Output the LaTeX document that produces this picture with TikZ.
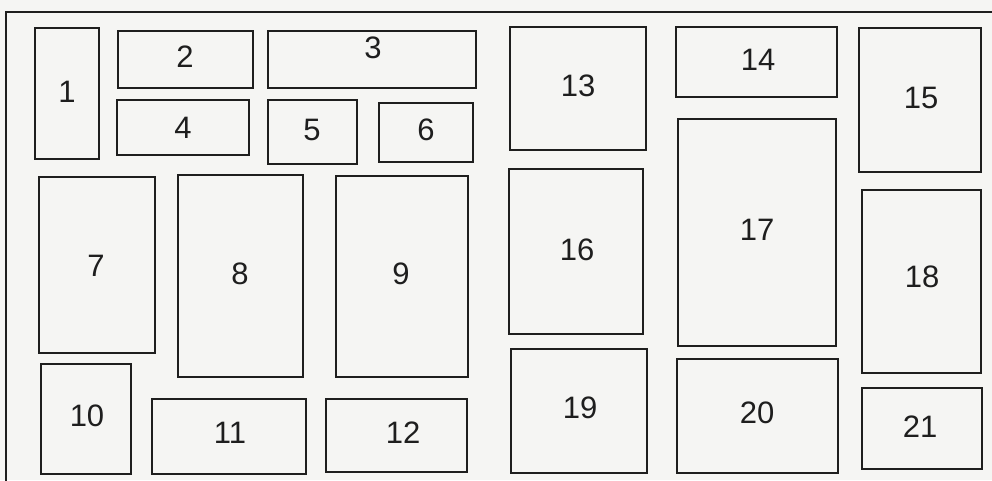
\documentclass[tikz,border=0pt]{standalone}
\usepackage{fontspec}
\setmainfont{Liberation Sans}
\usetikzlibrary{fit}
\definecolor{paper}{RGB}{245,245,243}
\definecolor{ink}{RGB}{30,30,30}
\tikzset{
  boxst/.style={draw=ink, line width=2.6pt, inner sep=0pt, fill=paper},
  lbl/.style={inner sep=0pt, text=ink, font=\fontsize{31}{31}\selectfont},
  frame/.style={draw=ink, line width=2.6pt}
}
\newcommand\bx[7]{%
  \node[boxst, fit={(#2,#3) (#4,#5)}] (b#1) {};
  \node[lbl] (l#1) at (#6,#7) {#1};}
\begin{document}
\begin{tikzpicture}[x=1pt,y=-1pt]
\fill[paper] (0,0) rectangle (992,480);
\useasboundingbox (0,0) rectangle (992,480);
\coordinate (fa) at (6,481);
\coordinate (fb) at (6,12);
\coordinate (fc) at (993,12);
\draw[frame] (fa) -- (fb) -- (fc);
\bx{1}{35}{28}{99}{159}{67}{92}
\bx{2}{118}{31}{253}{88}{185}{57}
\bx{3}{268}{31}{476}{88}{373}{48}
\bx{4}{117}{100}{249}{155}{183}{128}
\bx{5}{268}{100}{357}{164}{312}{130}
\bx{6}{379}{103}{473}{162}{426}{130}
\bx{7}{39}{177}{155}{353}{96}{266}
\bx{8}{178}{175}{303}{377}{240}{274}
\bx{9}{336}{176}{468}{377}{401}{274}
\bx{10}{41}{364}{131}{474}{87}{416}
\bx{11}{152}{399}{306}{474}{230}{433}
\bx{12}{326}{399}{467}{472}{403}{433}
\bx{13}{510}{27}{646}{150}{578}{86}
\bx{14}{676}{27}{837}{97}{758}{60}
\bx{15}{859}{28}{981}{172}{921}{98}
\bx{16}{509}{169}{643}{334}{577}{250}
\bx{17}{678}{119}{836}{346}{757}{230}
\bx{18}{862}{190}{981}{373}{922}{277}
\bx{19}{511}{349}{647}{473}{580}{408}
\bx{20}{677}{359}{838}{473}{757}{413}
\bx{21}{862}{388}{982}{469}{920}{427}
\end{tikzpicture}
\end{document}
